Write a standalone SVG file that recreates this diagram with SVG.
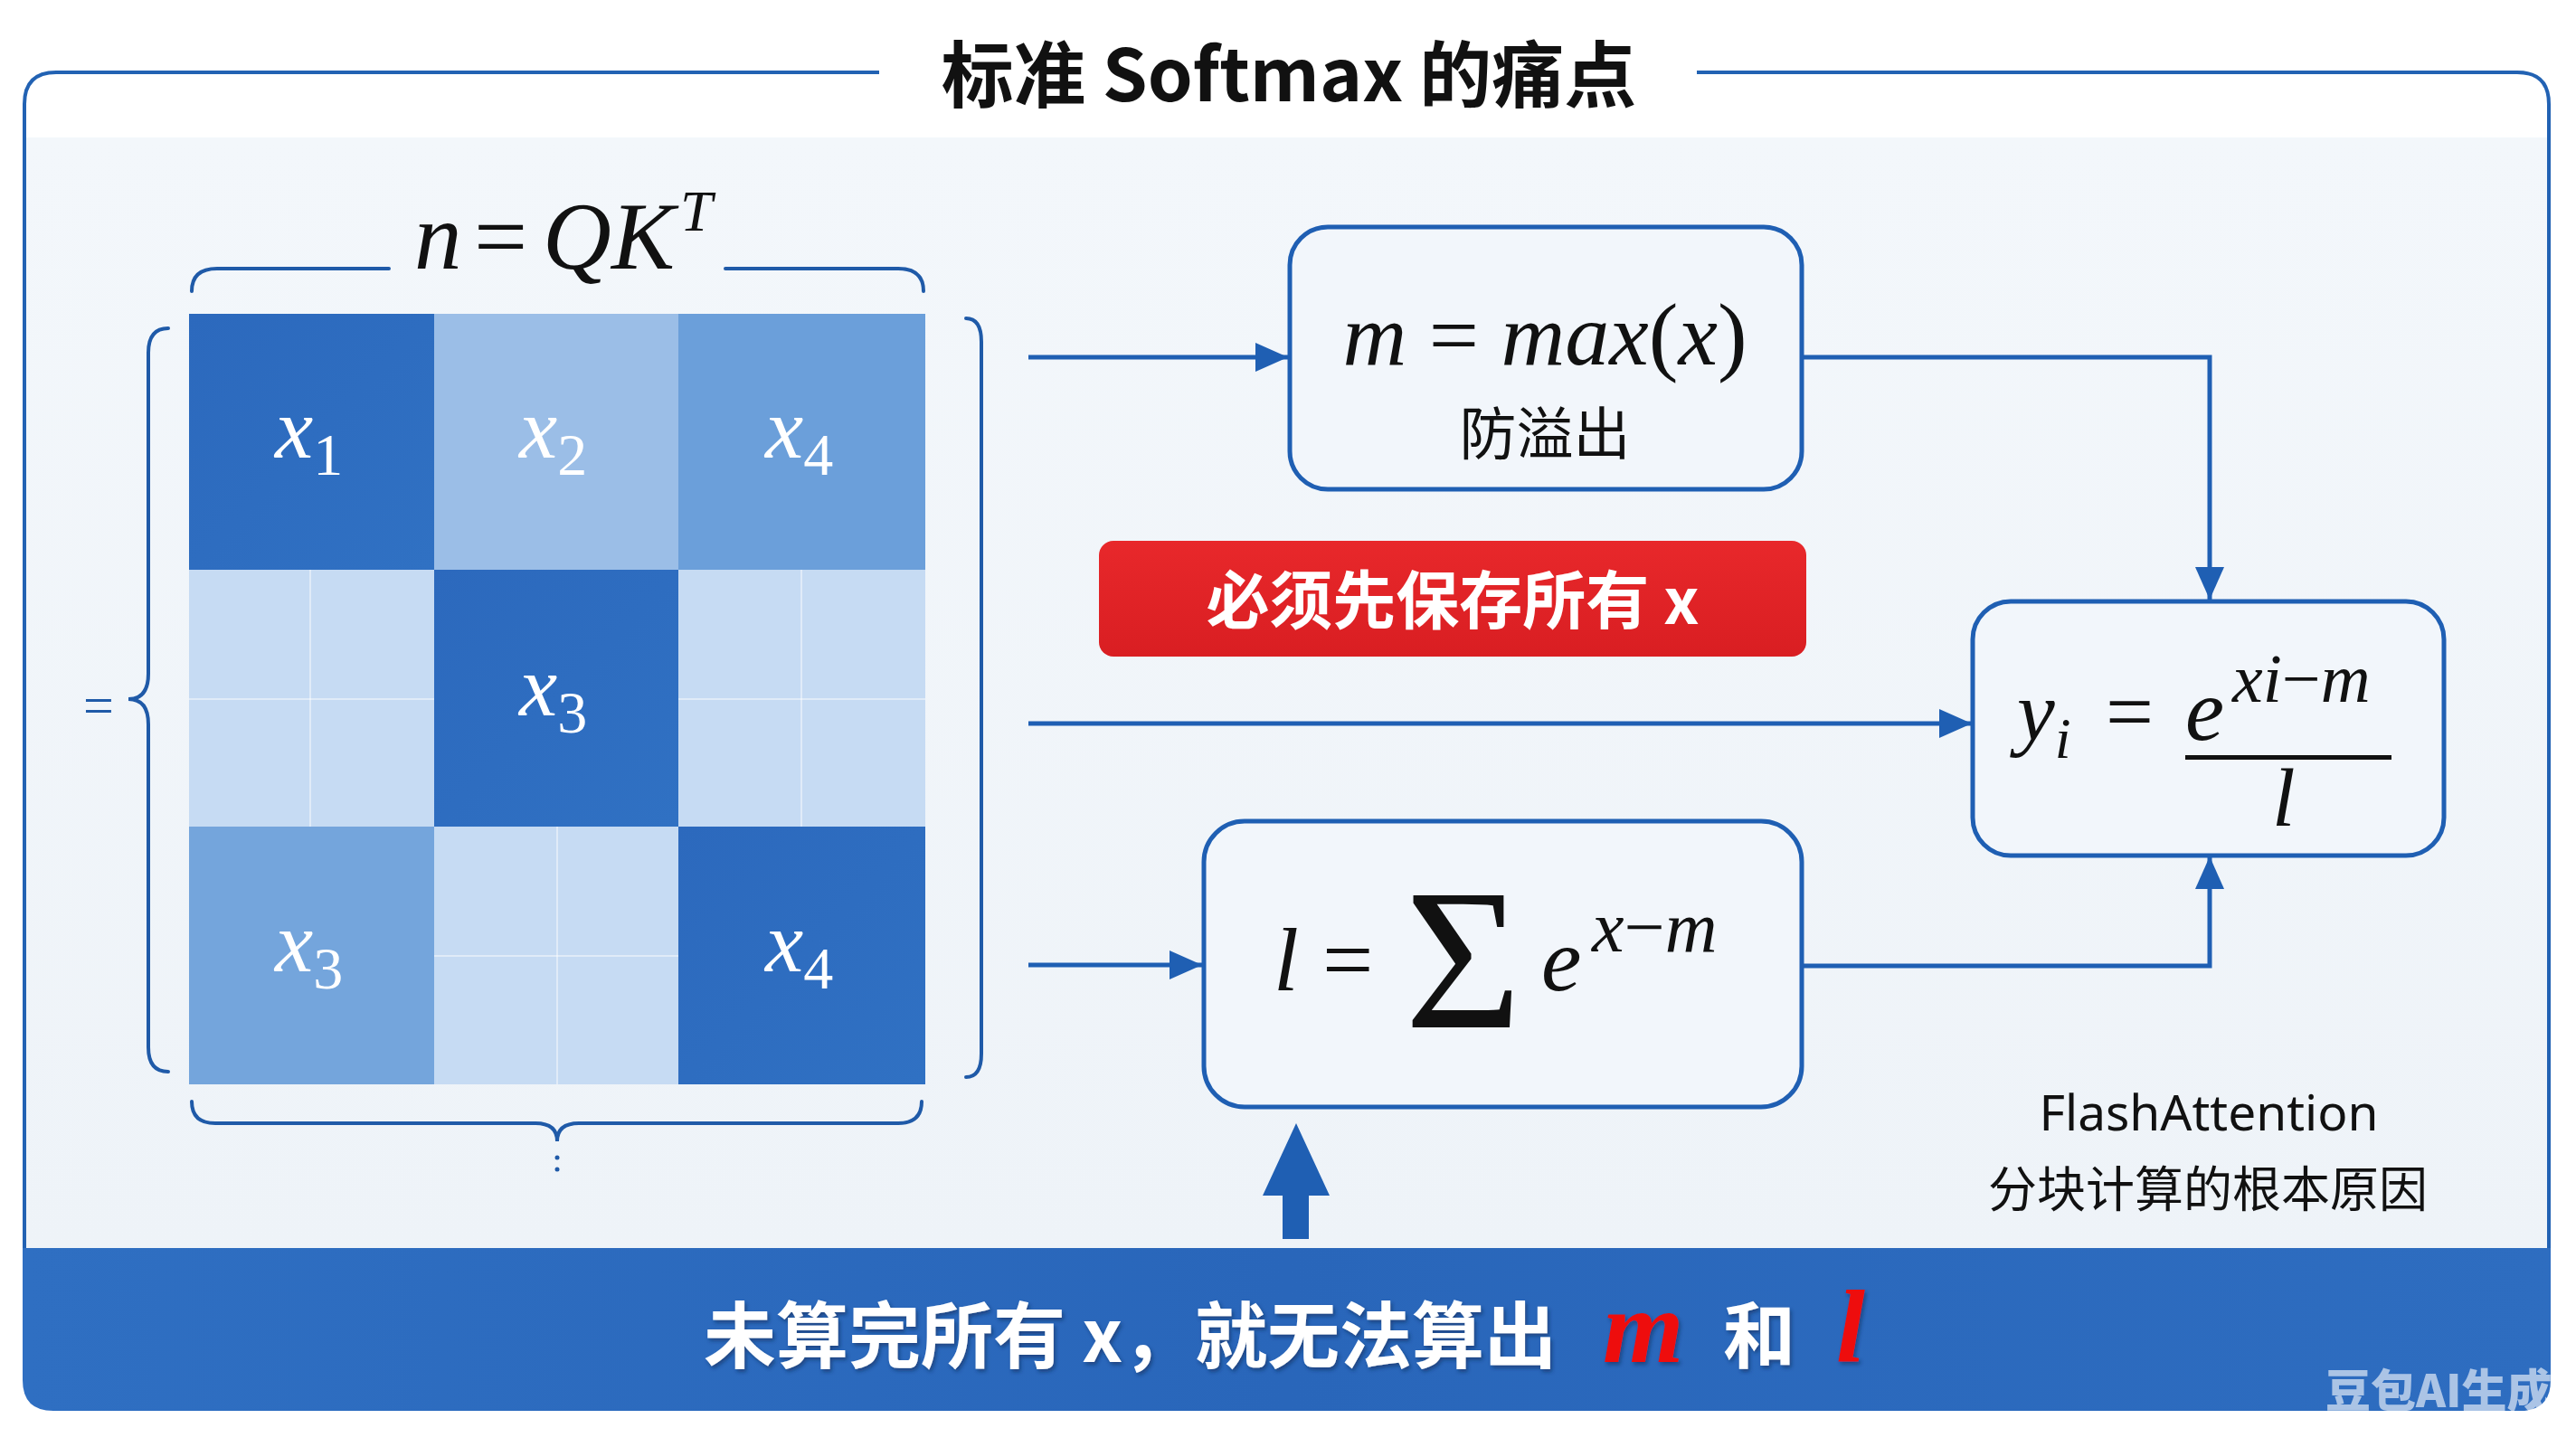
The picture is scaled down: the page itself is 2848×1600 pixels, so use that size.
<svg xmlns="http://www.w3.org/2000/svg" width="2848" height="1600" viewBox="0 0 2848 1600">
<defs>
<style>
.cjk{font-family:"Noto Sans CJK SC","Noto Sans",sans-serif}
.math{font-family:"Liberation Serif","DejaVu Serif",serif;font-style:italic;fill:#111}
.up{font-style:normal}
.cl{font-family:"Liberation Serif","DejaVu Serif",serif;font-style:italic;fill:#fff;font-size:95px}
.box{fill:#f2f6fb;stroke:#1f5fb3;stroke-width:5}
.conn{fill:none;stroke:#1f5fb3;stroke-width:5}
.brace{fill:none;stroke:#1f5aa8;stroke-width:4;stroke-linecap:round}
.sub{stroke:#ffffff;stroke-opacity:0.45;stroke-width:2}
</style>
<marker id="ah" markerUnits="userSpaceOnUse" markerWidth="36" markerHeight="32" refX="36" refY="16" orient="auto">
<path d="M0,0 L36,16 L0,32 z" fill="#1f5fb3"/>
</marker>
<linearGradient id="panel" x1="0" y1="0" x2="0" y2="1">
<stop offset="0" stop-color="#f3f7fb"/>
<stop offset="1" stop-color="#eef3f8"/>
</linearGradient>
<linearGradient id="band" x1="0" y1="0" x2="1" y2="0">
<stop offset="0" stop-color="#2f6fc2"/>
<stop offset="0.5" stop-color="#2966ba"/>
<stop offset="1" stop-color="#2e6dc0"/>
</linearGradient>
<linearGradient id="red" x1="0" y1="0" x2="0" y2="1">
<stop offset="0" stop-color="#e8282b"/>
<stop offset="1" stop-color="#d91e22"/>
</linearGradient>
<linearGradient id="dark" x1="0" y1="0" x2="1" y2="1">
<stop offset="0" stop-color="#2c69bd"/>
<stop offset="1" stop-color="#3071c3"/>
</linearGradient>
<filter id="sh" x="-10%" y="-20%" width="120%" height="150%">
<feDropShadow dx="2" dy="3" stdDeviation="2" flood-color="#0a2a5a" flood-opacity="0.6"/>
</filter>
</defs>

<rect x="0" y="0" width="2848" height="1600" fill="#ffffff"/>
<rect x="27" y="152" width="2791" height="1230" fill="url(#panel)"/>

<g id="frame">
<path d="M972,80 L62,80 Q27,80 27,115 L27,1390" fill="none" stroke="#2262b3" stroke-width="4"/>
<path d="M1876,80 L2783,80 Q2818,80 2818,115 L2818,1390" fill="none" stroke="#2262b3" stroke-width="4"/>
<text x="1425" y="112" text-anchor="middle" class="cjk" font-size="80" font-weight="700" fill="#111">标准 Softmax 的痛点</text>
</g>

<g id="bottom-band">
<path d="M25,1380 L2820,1380 L2820,1526 Q2820,1560 2786,1560 L59,1560 Q25,1560 25,1526 Z" fill="url(#band)"/>
<g filter="url(#sh)">
<text x="778" y="1506" class="cjk" font-size="80" font-weight="700" fill="#fff">未算完所有 x，就无法算出</text>
<text x="1772" y="1506" font-family="Liberation Serif,serif" font-style="italic" font-weight="700" font-size="115" fill="#ee1111">m</text>
<text x="1905" y="1506" class="cjk" font-size="80" font-weight="700" fill="#fff">和</text>
<text x="2030" y="1506" font-family="Liberation Serif,serif" font-style="italic" font-weight="700" font-size="115" fill="#ee1111">l</text>
</g>
<text x="2571" y="1556" class="cjk" font-size="50" font-weight="900" fill="#ffffff" fill-opacity="0.6">豆包AI生成</text>
</g>

<g id="matrix">
<rect x="209" y="347" width="271" height="283" fill="url(#dark)"/>
<rect x="480" y="347" width="270" height="283" fill="#9bbee7"/>
<rect x="750" y="347" width="273" height="283" fill="#6b9fda"/>
<rect x="209" y="630" width="271" height="284" fill="#c6dbf3"/>
<rect x="480" y="630" width="270" height="284" fill="url(#dark)"/>
<rect x="750" y="630" width="273" height="284" fill="#c6dbf3"/>
<rect x="209" y="914" width="271" height="285" fill="#74a5dc"/>
<rect x="480" y="914" width="270" height="285" fill="#c6dbf3"/>
<rect x="750" y="914" width="273" height="285" fill="url(#dark)"/>
<line class="sub" x1="343" y1="630" x2="343" y2="914"/>
<line class="sub" x1="209" y1="773" x2="480" y2="773"/>
<line class="sub" x1="886" y1="630" x2="886" y2="914"/>
<line class="sub" x1="750" y1="773" x2="1023" y2="773"/>
<line class="sub" x1="616" y1="914" x2="616" y2="1199"/>
<line class="sub" x1="480" y1="1057" x2="750" y2="1057"/>
<text class="cl" x="304" y="506">x<tspan font-size="66" dy="19" font-style="normal">1</tspan></text>
<text class="cl" x="574" y="506">x<tspan font-size="66" dy="19" font-style="normal">2</tspan></text>
<text class="cl" x="846" y="506">x<tspan font-size="66" dy="19" font-style="normal">4</tspan></text>
<text class="cl" x="574" y="791">x<tspan font-size="66" dy="19" font-style="normal">3</tspan></text>
<text class="cl" x="304" y="1074">x<tspan font-size="66" dy="19" font-style="normal">3</tspan></text>
<text class="cl" x="846" y="1074">x<tspan font-size="66" dy="19" font-style="normal">4</tspan></text>
</g>

<g id="braces">
<path class="brace" d="M212,322 Q212,297 240,297 L430,297"/>
<path class="brace" d="M802,297 L993,297 Q1021,297 1021,322"/>
<text class="math" y="297" font-size="105"><tspan x="458">n</tspan><tspan class="up" x="524">=</tspan><tspan x="600">Q</tspan><tspan x="676">K</tspan><tspan x="752" y="255" font-size="64">T</tspan></text>
<path class="brace" d="M186,363 Q164,363 164,390 L164,745 Q164,773 142,773 Q164,773 164,801 L164,1158 Q164,1185 186,1185"/>
<text x="92" y="800" font-family="Liberation Serif,serif" font-size="60" fill="#1f5aa8">=</text>
<path class="brace" d="M1068,352 Q1085,352 1085,378 L1085,1165 Q1085,1191 1068,1191"/>
<path class="brace" d="M212,1218 Q212,1242 238,1242 L592,1242 Q616,1242 616,1262 Q616,1242 640,1242 L993,1242 Q1019,1242 1019,1218"/>
<circle cx="616" cy="1280" r="2.5" fill="#1f5aa8"/>
<circle cx="616" cy="1293" r="2.5" fill="#1f5aa8"/>
</g>

<g id="connectors">
<line class="conn" x1="1137" y1="395" x2="1424" y2="395" marker-end="url(#ah)"/>
<line class="conn" x1="1137" y1="800" x2="2180" y2="800" marker-end="url(#ah)"/>
<line class="conn" x1="1137" y1="1067" x2="1329" y2="1067" marker-end="url(#ah)"/>
<path class="conn" d="M1992,395 L2443,395 L2443,663" marker-end="url(#ah)"/>
<path class="conn" d="M1992,1068 L2443,1068 L2443,947" marker-end="url(#ah)"/>
<path d="M1433,1242 L1470,1322 L1447,1322 L1447,1370 L1418,1370 L1418,1322 L1396,1322 Z" fill="#1f5fb3"/>
</g>

<g id="node-max">
<rect class="box" x="1426" y="251" width="566" height="290" rx="42"/>
<text class="math" x="1708" y="403" text-anchor="middle" font-size="98">m <tspan class="up">=</tspan> max<tspan class="up">(</tspan>x<tspan class="up">)</tspan></text>
<text x="1708" y="502" text-anchor="middle" class="cjk" font-size="63" fill="#111">防溢出</text>
</g>

<g id="node-red">
<rect x="1215" y="598" width="782" height="128" rx="16" fill="url(#red)"/>
<text x="1606" y="690" text-anchor="middle" class="cjk" font-size="70" font-weight="700" fill="#fff">必须先保存所有 x</text>
</g>

<g id="node-sum">
<rect class="box" x="1331" y="908" width="661" height="316" rx="45"/>
<text class="math" x="1408" y="1095" font-size="100">l</text>
<text class="math up" x="1462" y="1095" font-size="100">=</text>
<text class="math up" x="1553" y="1136" font-size="222">Σ</text>
<text class="math" x="1704" y="1095" font-size="100">e</text>
<text class="math" x="1760" y="1052" font-size="80">x<tspan class="up">−</tspan>m</text>
</g>

<g id="node-y">
<rect class="box" x="2181" y="665" width="521" height="281" rx="42"/>
<text class="math" x="2230" y="818" font-size="94">y<tspan font-size="64" dy="20">i</tspan></text>
<text class="math up" x="2328" y="818" font-size="94">=</text>
<text class="math" x="2416" y="818" font-size="97">e</text>
<text class="math" x="2468" y="776" font-size="76">xi<tspan class="up">−</tspan>m</text>
<rect x="2416" y="835" width="228" height="5" fill="#111"/>
<text class="math" x="2512" y="913" font-size="92">l</text>
</g>

<g id="note">
<text x="2442" y="1250" text-anchor="middle" font-family="Noto Sans,sans-serif" font-size="55" fill="#111">FlashAttention</text>
<text x="2441" y="1335" text-anchor="middle" class="cjk" font-size="54" fill="#111">分块计算的根本原因</text>
</g>
</svg>
